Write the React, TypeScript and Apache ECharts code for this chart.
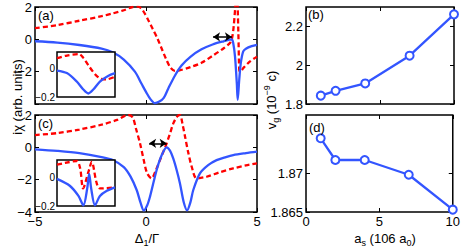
import React, { useEffect, useRef } from 'react';
import * as echarts from 'echarts';

const FONT = 'Liberation Sans, Arial, Helvetica, sans-serif';
const BLUE = '#3355ff';
const RED = '#ff0000';

// Panel (a): x = Δ1/Γ, y = iχ
const aBlue: [number, number][] = [
  [-5, -0.12], [-4, -0.2], [-3, -0.35], [-2, -0.57], [-1.5, -0.8], [-1, -1.25], [-0.5, -2.0],
  [-0.2, -2.75], [0, -3.25], [0.2, -3.7], [0.4, -3.95], [0.6, -3.85], [0.8, -3.62], [1.0, -3.05],
  [1.3, -2.25], [1.6, -1.62], [2.0, -1.08], [2.5, -0.62], [3.0, -0.32], [3.5, -0.12], [3.86, 0.0],
  [3.93, -0.24], [4.01, -1.07], [4.09, -2.7], [4.13, -3.74], [4.2, -2.5], [4.27, -1.47],
  [4.38, -0.75], [4.5, -0.58], [4.76, -0.42], [5, -0.34],
];
const aRed: [number, number][] = [
  [-5, 0.69], [-4, 0.88], [-3, 1.15], [-2, 1.43], [-1.5, 1.6], [-1, 1.8], [-0.6, 2.0], [-0.35, 2.02],
  [-0.15, 1.8], [0.1, 1.2], [0.3, 0.65], [0.5, 0.1], [0.7, -0.55], [0.9, -1.2], [1.1, -1.75],
  [1.3, -1.95], [1.5, -1.92], [2.0, -1.72], [2.5, -1.45], [3.0, -1.02], [3.5, -0.55], [3.8, -0.2],
  [3.88, 0.1], [3.95, 0.8], [4.01, 1.8], [4.06, 2.6], [4.1, 2.6], [4.16, 0.4], [4.2, -1.9],
  [4.24, -2.0], [4.4, -1.75], [4.7, -1.35], [5, -1.07],
];
const aArrow: [number, number][] = [[3.02, 0.15], [3.87, 0.15]];

// Inset of (a), zoomed region (unlabelled x)
const aInsetBlue: [number, number][] = [
  [0, -0.012], [0.17, -0.03], [0.34, -0.09], [0.45, -0.145], [0.54, -0.175], [0.63, -0.145],
  [0.74, -0.09], [0.88, -0.05], [1, -0.03],
];
const aInsetRed: [number, number][] = [
  [0, 0.076], [0.17, 0.095], [0.38, 0.105], [0.45, 0.08], [0.55, 0.02], [0.66, -0.04],
  [0.75, -0.07], [0.85, -0.075], [1, -0.055],
];

// Panel (c)
const cBlue: [number, number][] = [
  [-5, -0.12], [-4, -0.22], [-3, -0.36], [-2, -0.6], [-1.5, -0.78], [-1, -1.22], [-0.7, -1.8],
  [-0.42, -2.64], [-0.25, -3.4], [-0.1, -3.9], [0.05, -3.6], [0.18, -3.05], [0.35, -2.1],
  [0.48, -1.4], [0.63, -0.75], [0.78, -0.27], [0.93, 0.0], [1.08, -0.2], [1.23, -0.7],
  [1.38, -1.4], [1.53, -2.23], [1.7, -3.4], [1.85, -3.9], [2.0, -3.4], [2.13, -2.64],
  [2.43, -1.61], [2.8, -1.1], [3.18, -0.79], [3.6, -0.6], [3.93, -0.48], [4.5, -0.36], [5, -0.27],
];
const cRed: [number, number][] = [
  [-5, 0.76], [-4, 0.88], [-3, 1.1], [-2, 1.4], [-1.3, 1.7], [-0.8, 2.0], [-0.6, 1.85],
  [-0.45, 1.15], [-0.27, 0.25], [-0.1, -0.8], [0.05, -1.6], [0.25, -1.92], [0.45, -1.4],
  [0.63, -0.79], [0.8, -0.2], [0.93, 0.25], [1.08, 0.85], [1.23, 1.48], [1.4, 1.9], [1.53, 2.0],
  [1.65, 1.4], [1.76, 0.66], [1.9, -0.3], [2.06, -1.2], [2.28, -1.92], [2.73, -1.82],
  [3.3, -1.55], [3.93, -1.3], [4.5, -1.12], [5, -0.99],
];
const cArrow: [number, number][] = [[0.14, 0.25], [0.93, 0.25]];

const cInsetBlue: [number, number][] = [
  [0, -0.011], [0.22, -0.059], [0.37, -0.13], [0.455, -0.195], [0.52, -0.08], [0.555, 0.024],
  [0.59, -0.08], [0.655, -0.195], [0.74, -0.13], [0.86, -0.094], [1, -0.07],
];
const cInsetRed: [number, number][] = [
  [0, 0.088], [0.14, 0.1], [0.34, 0.113], [0.4, 0.06], [0.45, -0.078], [0.54, 0.035],
  [0.6, 0.106], [0.68, -0.035], [0.74, -0.078], [1, -0.07],
];

// Panels (b) and (d): x = a_s (106 a_0), y = v_g (10^-9 c)
const asValues = [1, 2, 4, 7, 10];
const bVg = [1.843, 1.868, 1.906, 2.049, 2.262];
const dVg = [1.8745, 1.8717, 1.8717, 1.8698, 1.8653];

const mainXTicks = [-5, 0, 5];
const mainYTicks = [-4, -2, 0, 2];
const aYLabels = [-2, 0, 2];
const asTicks = [0, 5, 10];
const bYTicks = [1.8, 2, 2.2];
const dYTicks = [1.865, 1.87];
const insetYTicks = [-0.2, 0];

const fmt = (v: number) => {
  const s = String(Math.round(v * 10000) / 10000);
  return s.replace('-', '\u2212');
};

function axis(o: any) {
  const labels: number[] | undefined = o.labels;
  return {
    type: 'value',
    gridIndex: o.grid,
    position: o.position,
    min: o.min,
    max: o.max,
    interval: o.interval,
    z: o.z,
    axisLine: { show: false, onZero: false },
    splitLine: { show: false },
    axisTick: o.ticks
      ? { show: true, inside: true, length: 4, lineStyle: { color: '#000', width: 1 }, customValues: o.ticks }
      : { show: false },
    axisLabel: labels
      ? {
          show: true,
          customValues: labels,
          color: '#000',
          fontFamily: FONT,
          fontSize: o.fontSize || 13,
          margin: o.margin ?? 3,
          showMinLabel: true,
          showMaxLabel: true,
          formatter: (v: number) => (labels.some((l) => Math.abs(l - v) < 1e-9) ? fmt(v) : ''),
        }
      : { show: false },
  };
}

const arrowMark = (pts: [number, number][]) => ({
  silent: true,
  symbol: ['arrow', 'arrow'],
  symbolSize: [7, 7],
  label: { show: false },
  lineStyle: { color: '#000', width: 1.5, type: 'solid' },
  emphasis: { disabled: true },
  data: [[{ coord: pts[0] }, { coord: pts[1] }]],
});

const rich = {
  n: { fontSize: 13, fontFamily: FONT, lineHeight: 18, verticalAlign: 'middle' },
  s: { fontSize: 9, fontFamily: FONT, lineHeight: 9, verticalAlign: 'bottom' },
  p: { fontSize: 9, fontFamily: FONT, lineHeight: 9, verticalAlign: 'top' },
};

export default function App() {
  const ref = useRef<HTMLDivElement>(null);
  useEffect(() => {
    if (!ref.current) return;
    const chart = echarts.init(ref.current, undefined, { renderer: 'svg' });
    const gridBase = { show: true, borderColor: '#000', borderWidth: 1.5, backgroundColor: 'transparent', containLabel: false };
    const lineS = (x: number, y: number, data: any, color: string, dashed: boolean, z = 2, extra: any = {}) => ({
      type: 'line',
      xAxisIndex: x,
      yAxisIndex: y,
      data,
      showSymbol: false,
      smooth: 0.3,
      clip: true,
      z,
      lineStyle: { color, width: 2.3, type: dashed ? [5, 3] : 'solid' },
      itemStyle: { color },
      emphasis: { disabled: true },
      ...extra,
    });
    const option: any = {
      animation: false,
      backgroundColor: '#fff',
      grid: [
        { ...gridBase, left: 35, top: 7, width: 222, height: 97 },
        { ...gridBase, left: 35, top: 115, width: 222, height: 97 },
        { ...gridBase, left: 306, top: 7, width: 148, height: 97 },
        { ...gridBase, left: 306, top: 115, width: 148, height: 97 },
        { ...gridBase, left: 57, top: 52, width: 58, height: 45, backgroundColor: '#fff', z: 10 },
        { ...gridBase, left: 57, top: 160, width: 58, height: 46, backgroundColor: '#fff', z: 10 },
      ],
      xAxis: [
        axis({ grid: 0, position: 'bottom', min: -5, max: 5, interval: 5, ticks: mainXTicks }),
        axis({ grid: 0, position: 'top', min: -5, max: 5, interval: 5, ticks: mainXTicks }),
        axis({ grid: 1, position: 'bottom', min: -5, max: 5, interval: 5, ticks: mainXTicks, labels: mainXTicks, margin: 3 }),
        axis({ grid: 1, position: 'top', min: -5, max: 5, interval: 5, ticks: mainXTicks }),
        axis({ grid: 2, position: 'bottom', min: 0, max: 10, interval: 5, ticks: asTicks }),
        axis({ grid: 2, position: 'top', min: 0, max: 10, interval: 5, ticks: asTicks }),
        axis({ grid: 3, position: 'bottom', min: 0, max: 10, interval: 5, ticks: asTicks, labels: asTicks, margin: 3 }),
        axis({ grid: 3, position: 'top', min: 0, max: 10, interval: 5, ticks: asTicks }),
        axis({ grid: 4, position: 'bottom', min: 0, max: 1, z: 11 }),
        axis({ grid: 5, position: 'bottom', min: 0, max: 1, z: 11 }),
      ],
      yAxis: [
        axis({ grid: 0, position: 'left', min: -4, max: 2, interval: 2, ticks: mainYTicks, labels: aYLabels }),
        axis({ grid: 0, position: 'right', min: -4, max: 2, interval: 2, ticks: mainYTicks }),
        axis({ grid: 1, position: 'left', min: -4, max: 2, interval: 2, ticks: mainYTicks, labels: mainYTicks }),
        axis({ grid: 1, position: 'right', min: -4, max: 2, interval: 2, ticks: mainYTicks }),
        axis({ grid: 2, position: 'left', min: 1.8, max: 2.3, interval: 0.2, ticks: bYTicks, labels: bYTicks }),
        axis({ grid: 2, position: 'right', min: 1.8, max: 2.3, interval: 0.2, ticks: bYTicks }),
        axis({ grid: 3, position: 'left', min: 1.865, max: 1.8775, interval: 0.005, ticks: dYTicks, labels: dYTicks }),
        axis({ grid: 3, position: 'right', min: 1.865, max: 1.8775, interval: 0.005, ticks: dYTicks }),
        axis({ grid: 4, position: 'left', min: -0.2, max: 0.12, interval: 0.2, labels: insetYTicks, fontSize: 10, margin: 2, z: 11 }),
        axis({ grid: 5, position: 'left', min: -0.2, max: 0.12, interval: 0.2, labels: insetYTicks, fontSize: 10, margin: 2, z: 11 }),
      ],
      series: [
        lineS(0, 0, aRed, RED, true),
        lineS(0, 0, aBlue, BLUE, false, 2, { markLine: arrowMark(aArrow) }),
        lineS(2, 2, cRed, RED, true),
        lineS(2, 2, cBlue, BLUE, false, 2, { markLine: arrowMark(cArrow) }),
        {
          type: 'line', xAxisIndex: 4, yAxisIndex: 4,
          data: asValues.map((x, i) => [x, bVg[i]]),
          symbol: 'emptyCircle', symbolSize: 8, showSymbol: true, clip: false,
          lineStyle: { color: BLUE, width: 2.3 },
          itemStyle: { color: BLUE, borderWidth: 2.2 },
          emphasis: { disabled: true },
        },
        {
          type: 'line', xAxisIndex: 6, yAxisIndex: 6,
          data: asValues.map((x, i) => [x, dVg[i]]),
          symbol: 'emptyCircle', symbolSize: 8, showSymbol: true, clip: false,
          lineStyle: { color: BLUE, width: 2.3 },
          itemStyle: { color: BLUE, borderWidth: 2.2 },
          emphasis: { disabled: true },
        },
        lineS(8, 8, aInsetRed, RED, true, 12),
        lineS(8, 8, aInsetBlue, BLUE, false, 12),
        lineS(9, 9, cInsetRed, RED, true, 12),
        lineS(9, 9, cInsetBlue, BLUE, false, 12),
      ],
      graphic: [
        { type: 'text', x: 38, y: 9, z: 20, style: { text: '(a)', font: `13px ${FONT}`, fill: '#000', align: 'left', verticalAlign: 'top' } },
        { type: 'text', x: 38, y: 117, z: 20, style: { text: '(c)', font: `13px ${FONT}`, fill: '#000', align: 'left', verticalAlign: 'top' } },
        { type: 'text', x: 308, y: 8, z: 20, style: { text: '(b)', font: `13px ${FONT}`, fill: '#000', align: 'left', verticalAlign: 'top' } },
        { type: 'text', x: 309, y: 121, z: 20, style: { text: '(d)', font: `13px ${FONT}`, fill: '#000', align: 'left', verticalAlign: 'top' } },
        { type: 'text', x: 17, y: 97, rotation: Math.PI / 2, z: 20, style: { text: 'i\u03c7 (arb. units)', font: `13px ${FONT}`, fill: '#000', align: 'center', verticalAlign: 'middle' } },
        { type: 'text', x: 271, y: 100, rotation: Math.PI / 2, z: 20, style: { text: '{n|v}{s|g}{n| (10}{p|\u22129}{n| c)}', rich, fill: '#000', align: 'center', verticalAlign: 'middle' } },
        { type: 'text', x: 147, y: 238, z: 20, style: { text: '{n|\u0394}{s|1}{n|/\u0393}', rich, fill: '#000', align: 'center', verticalAlign: 'middle' } },
        { type: 'text', x: 385, y: 238, z: 20, style: { text: '{n|a}{s|s}{n| (106 a}{s|0}{n|)}', rich, fill: '#000', align: 'center', verticalAlign: 'middle' } },
      ],
    };
    chart.setOption(option);
    return () => chart.dispose();
  }, []);
  return (
    <div
      ref={ref}
      style={{ position: 'absolute', left: 0, top: 0, width: 463, height: 251, background: '#fff' }}
    />
  );
}
